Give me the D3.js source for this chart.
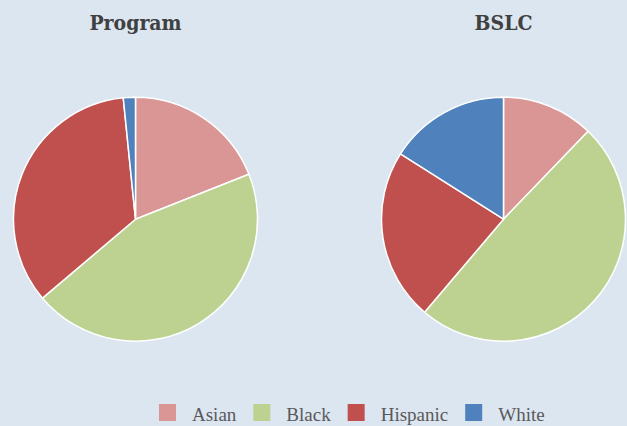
<!DOCTYPE html>
<html>
<head>
<meta charset="utf-8">
<script src="https://cdn.jsdelivr.net/npm/d3@7"></script>
<style>
  html, body { margin: 0; padding: 0; background: #dce6f1; }
  svg { display: block; }
</style>
</head>
<body>
<div id="chart"></div>
<script>
(function() {

  var width = 627,
      height = 426;

  // data (percent of each group)
  var categories = ["Asian", "Black", "Hispanic", "White"];
  var programValues = [19.0, 44.8, 34.6, 1.6];
  var bslcValues = [12.2, 49.0, 22.8, 16.0];
  var chartTitles = ["Program", "BSLC"];
  var colors = ["#d99694", "#bdd291", "#c0504d", "#4f81bd"];

  var svg = d3.select("#chart")
    .append("svg")
    .attr("width", width)
    .attr("height", height);

  svg.append("rect")
    .attr("width", width)
    .attr("height", height)
    .attr("fill", "#dce6f1");

  var color = d3.scaleOrdinal().domain(categories).range(colors);

  // two pie centres across the page
  var xPos = d3.scalePoint().domain(chartTitles).range([135.5, 503.5]);
  var cy = 219.2,
      radius = 122;

  var pie = d3.pie().sort(null).value(function(d) { return d.value; });
  var arc = d3.arc().innerRadius(0).outerRadius(radius);

  var series = [programValues, bslcValues];

  chartTitles.forEach(function(title, i) {
    var rows = categories.map(function(c, j) {
      return { category: c, value: series[i][j] };
    });

    var g = svg.append("g")
      .attr("transform", "translate(" + xPos(title) + "," + cy + ")");

    g.selectAll("path")
      .data(pie(rows))
      .enter().append("path")
      .attr("d", arc)
      .attr("fill", function(d) { return color(d.data.category); })
      .attr("stroke", "#ffffff")
      .attr("stroke-width", 1.5)
      .attr("stroke-linejoin", "round");

    svg.append("text")
      .attr("x", xPos(title))
      .attr("y", 30)
      .attr("text-anchor", "middle")
      .attr("font-family", "'DejaVu Serif Condensed', 'DejaVu Serif', serif")
      .attr("font-stretch", "condensed")
      .attr("font-weight", "bold")
      .attr("font-size", 21)
      .attr("fill", "#404040")
      .text(title);
  });

  // legend along the bottom
  var legend = svg.append("g").attr("class", "legend");
  var x = 159;
  categories.forEach(function(c) {
    legend.append("rect")
      .attr("x", x)
      .attr("y", 404)
      .attr("width", 17)
      .attr("height", 17)
      .attr("fill", color(c));
    var t = legend.append("text")
      .attr("x", x + 33)
      .attr("y", 421)
      .attr("font-family", "'Liberation Serif', 'DejaVu Serif', serif")
      .attr("font-size", 19)
      .attr("fill", "#595959")
      .text(c);
    x += 33 + t.node().getComputedTextLength() + 17;
  });

})();
</script>
</body>
</html>
